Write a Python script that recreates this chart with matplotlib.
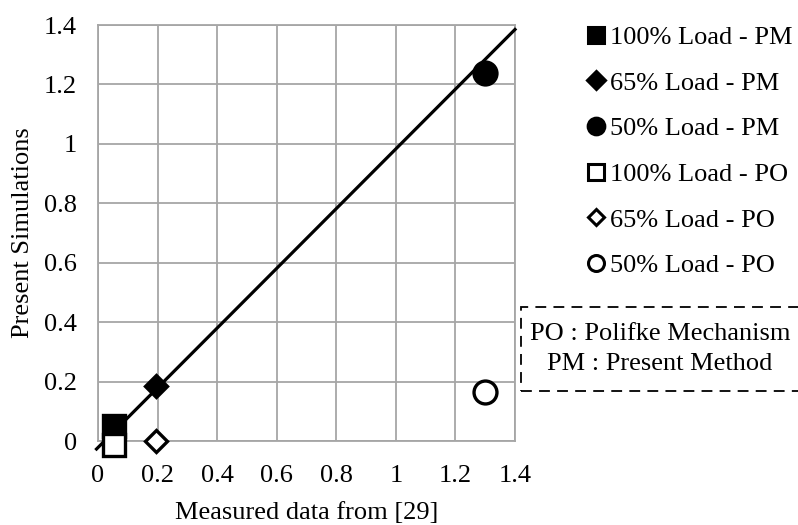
import matplotlib
matplotlib.use("Agg")
import matplotlib.pyplot as plt
from matplotlib.ticker import FuncFormatter
from matplotlib.patches import Rectangle

plt.rcParams['font.family'] = ['Liberation Serif', 'DejaVu Serif']

# measured (x) vs simulated (y)
meas_100 = [0.055]
meas_65 = [0.195]
meas_50 = [1.3]
pm_100 = [0.052]
pm_65 = [0.185]
pm_50 = [1.237]
po_100 = [-0.012]
po_65 = [0.0]
po_50 = [0.165]

# reference line (y ~ x)
line_x = [-0.005, 1.4]
line_y = [-0.027, 1.385]

ticks = [0, 0.2, 0.4, 0.6, 0.8, 1.0, 1.2, 1.4]

fig = plt.figure(figsize=(7.98, 5.25), dpi=100)
ax = fig.add_axes([98/798, 1-441/525, 417/798, 416/525])

ax.plot(line_x, line_y, color='black', lw=2.3, clip_on=False, zorder=3)

fs = 19
ew = 2.4
# x, y, marker, fill, label, marker size, legend marker size
series = [
    (meas_100, pm_100, 's', 'black', '100% Load - PM', 16, 11.5),
    (meas_65, pm_65, 'D', 'black', '65% Load - PM', 11.7, 8.7),
    (meas_50, pm_50, 'o', 'black', '50% Load - PM', 16.5, 12),
    (meas_100, po_100, 's', 'white', '100% Load - PO', 16, 11),
    (meas_65, po_65, 'D', 'white', '65% Load - PO', 11.7, 8.3),
    (meas_50, po_50, 'o', 'white', '50% Load - PO', 16.5, 11.5),
]
handles = []
for x, y, m, fc, lab, ms, lms in series:
    ax.plot(x, y, linestyle='none', marker=m, markersize=ms, markerfacecolor=fc,
            markeredgecolor='black', markeredgewidth=ew, clip_on=False, zorder=4)
    h, = plt.plot([], [], linestyle='none', marker=m, markersize=lms,
                  markerfacecolor=fc, markeredgecolor='black', markeredgewidth=2.2, label=lab)
    handles.append(h)

ax.set_xlim(0, 1.4)
ax.set_ylim(0, 1.4)
ax.set_xticks(ticks)
ax.set_yticks(ticks)
fmt = FuncFormatter(lambda v, p: '%g' % round(v, 1))
ax.xaxis.set_major_formatter(fmt)
ax.yaxis.set_major_formatter(fmt)
ax.tick_params(length=0, labelsize=fs)
ax.tick_params(axis='x', pad=17)
ax.tick_params(axis='y', pad=15)
ax.grid(True, color='#a6a6a6', lw=1.3)
ax.set_axisbelow(True)
for s in ax.spines.values():
    s.set_color('#a6a6a6')
    s.set_linewidth(1.3)

ax.set_xlabel('Measured data from [29]', fontsize=fs, labelpad=11)
ax.set_ylabel('Present Simulations', fontsize=fs, labelpad=7)

fig.legend(handles=handles, loc='upper left', bbox_to_anchor=(578/798, 1-15/525),
           frameon=False, fontsize=fs, handlelength=0.6, handletextpad=0.2,
           labelspacing=0.84, borderaxespad=0)

fig.patches.append(Rectangle((521/798, 1-391/525), 290/798, 84/525, transform=fig.transFigure,
                             fill=False, edgecolor='black', lw=1.3, linestyle=(0, (6, 4)),
                             clip_on=False))
fig.text(660/798, 1-340/525, 'PO : Polifke Mechanism', fontsize=fs, ha='center', va='baseline')
fig.text(660/798, 1-370/525, 'PM : Present Method', fontsize=fs, ha='center', va='baseline')

fig.savefig('out.png', dpi=100)
